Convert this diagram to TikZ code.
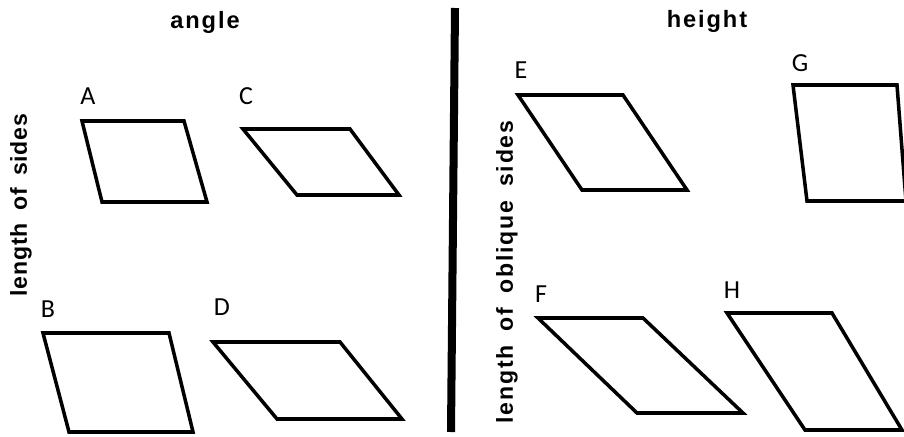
\documentclass[tikz,border=0pt]{standalone}
\usepackage{fontspec}
\setmainfont{Carlito}
\newfontfamily\headfont[LetterSpace=8]{Liberation Sans}
\newfontfamily\sidefont[LetterSpace=3]{Liberation Sans}
\newfontfamily\obliquefont[LetterSpace=8]{Liberation Sans}
\tikzset{
  para/.style={line width=2.5pt},
  tag/.style={font=\fontsize{18.5}{22}\selectfont, inner sep=0pt, anchor=base},
  head/.style={font=\headfont\bfseries\fontsize{16.8}{20}\selectfont, inner sep=0pt, anchor=base},
}
\begin{document}
\begin{tikzpicture}[x=0.025cm,y=-0.025cm]
\useasboundingbox (0,0) rectangle (904,436);
% divider
\draw[line width=5.7pt] (455,8) -- (451,432);
% column heads
\node[head] (angle) at (205,28) {angle};
\node[head] (height) at (707,27) {height};
% row labels
\node[inner sep=0pt,rotate=90,font=\sidefont\bfseries\fontsize{16.4}{20}\selectfont] (sides) at (21,205) {length\hspace{0.55em}of\hspace{0.55em}sides};
\node[inner sep=0pt,rotate=90,font=\obliquefont\bfseries\fontsize{16.4}{20}\selectfont] (oblique) at (507,272) {length\hspace{0.6em}of\hspace{0.6em}oblique\hspace{0.6em}sides};
% parallelograms
\draw[para] (82,121) -- (184,121) -- (207,202) -- (102,202) -- cycle;
\draw[para] (243,129) -- (350,129) -- (399,195) -- (297,195) -- cycle;
\draw[para] (43,333) -- (169,333) -- (193,432) -- (69,432) -- cycle;
\draw[para] (213,342) -- (340,342) -- (402,419) -- (277,419) -- cycle;
\draw[para] (518,95) -- (623,95) -- (687,190) -- (582,190) -- cycle;
\draw[para] (793,85) -- (897,85) -- (906,201) -- (807,201) -- cycle;
\draw[para] (538,318) -- (643,318) -- (743,413) -- (637,413) -- cycle;
\draw[para] (727,313) -- (832,313) -- (902,430) -- (805,430) -- cycle;
% letters
\foreach \n/\x/\y in {A/88/104, C/246/104, B/48/317, D/222/315, E/521/78, G/800/71, F/541/302, H/732/298}
  \node[tag] (lab\n) at (\x,\y) {\n};
\end{tikzpicture}
\end{document}
